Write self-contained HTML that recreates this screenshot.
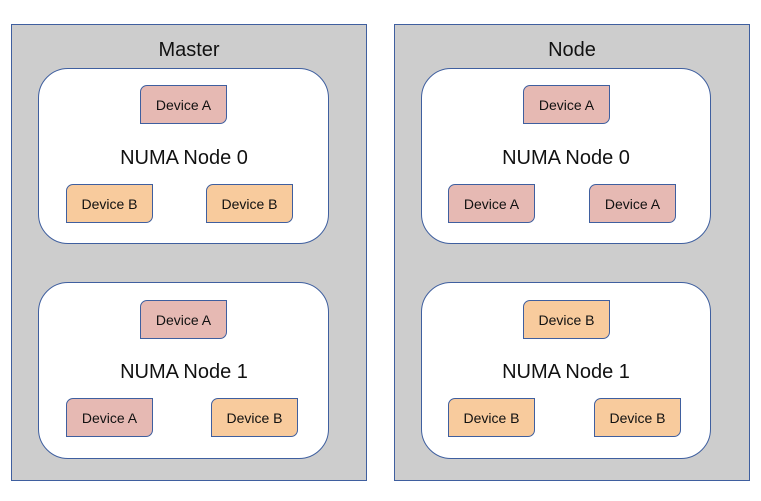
<!DOCTYPE html>
<html><head><style>
body{margin:0;width:761px;height:501px;background:#fff;position:relative;font-family:"Liberation Sans",sans-serif;overflow:hidden}
.o{position:absolute;background:#cdcdcd;border:1px solid #3f5f9f;box-sizing:border-box}
.n{position:absolute;background:#fff;border:1px solid #3f5f9f;border-radius:30px;box-sizing:border-box}
.t{position:absolute;font-size:20px;color:#111;text-align:center;width:300px}
.d{position:absolute;width:87px;height:39px;box-sizing:border-box;border:1px solid #3f5f9f;border-radius:7px 0 7px 0;font-size:14px;line-height:39px;text-align:center;color:#111}
.a{background:#e6b9b3}.b{background:#f8cb9d}
</style></head><body>
<div class="o" style="left:11px;top:24px;width:356px;height:457px"></div>
<div class="o" style="left:394px;top:24px;width:356px;height:457px"></div>
<div class="t" style="left:39px;top:39px">Master</div>
<div class="t" style="left:422px;top:39px">Node</div>
<div class="n" style="left:38px;top:68px;width:291px;height:176px"></div>
<div class="n" style="left:38px;top:282px;width:291px;height:177px"></div>
<div class="n" style="left:421px;top:68px;width:290px;height:176px"></div>
<div class="n" style="left:421px;top:282px;width:290px;height:177px"></div>
<div class="t" style="left:34px;top:147px">NUMA Node 0</div>
<div class="t" style="left:34px;top:361px">NUMA Node 1</div>
<div class="t" style="left:416px;top:147px">NUMA Node 0</div>
<div class="t" style="left:416px;top:361px">NUMA Node 1</div>
<div class="d a" style="left:140px;top:85px">Device A</div>
<div class="d b" style="left:66px;top:184px">Device B</div>
<div class="d b" style="left:206px;top:184px">Device B</div>
<div class="d a" style="left:140px;top:300px">Device A</div>
<div class="d a" style="left:66px;top:398px">Device A</div>
<div class="d b" style="left:211px;top:398px">Device B</div>
<div class="d a" style="left:523px;top:85px">Device A</div>
<div class="d a" style="left:448px;top:184px">Device A</div>
<div class="d a" style="left:589px;top:184px">Device A</div>
<div class="d b" style="left:523px;top:300px">Device B</div>
<div class="d b" style="left:448px;top:398px">Device B</div>
<div class="d b" style="left:594px;top:398px">Device B</div>
</body></html>
